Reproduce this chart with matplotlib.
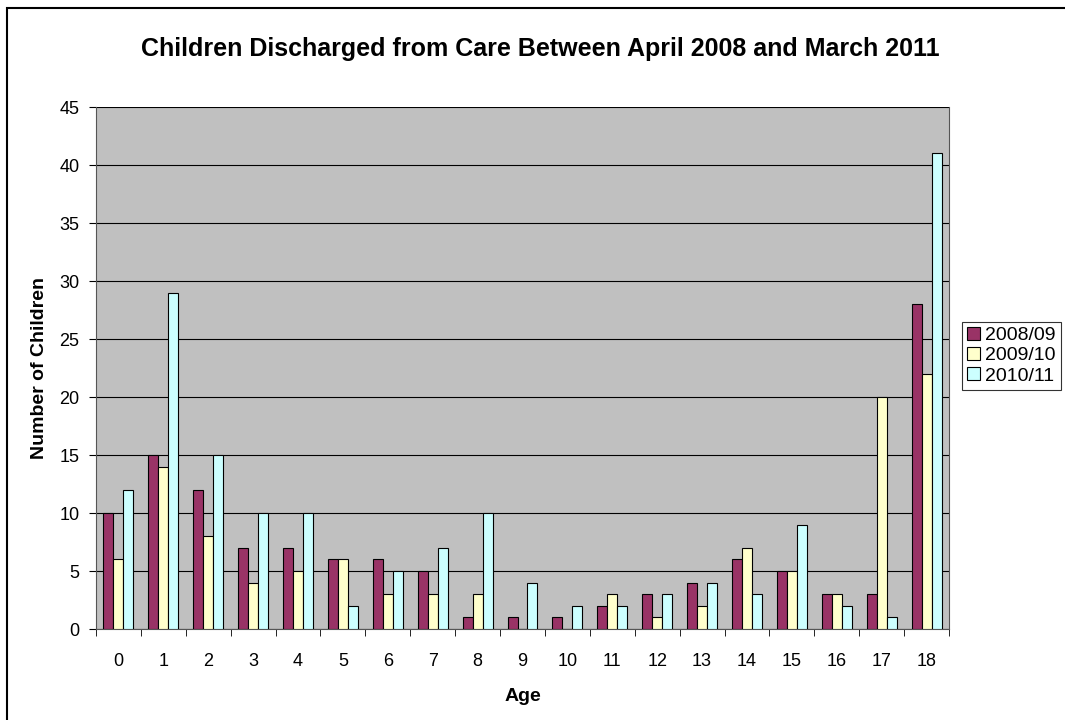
import matplotlib
matplotlib.use("Agg")
import matplotlib.pyplot as plt
from matplotlib.patches import Rectangle
import numpy as np

plt.rcParams['font.family'] = ['Liberation Sans', 'DejaVu Sans']

ages = [str(a) for a in range(19)]
years = ["2008/09", "2009/10", "2010/11"]
y2008 = [10, 15, 12, 7, 7, 6, 6, 5, 1, 1, 1, 2, 3, 4, 6, 5, 3, 3, 28]
y2009 = [6, 14, 8, 4, 5, 6, 3, 3, 3, 0, 0, 3, 1, 2, 7, 5, 3, 20, 22]
y2010 = [12, 29, 15, 10, 10, 2, 5, 7, 10, 4, 2, 2, 3, 4, 3, 9, 2, 1, 41]
colors = ["#993366", "#FFFFCC", "#CCFFFF"]

fig = plt.figure(figsize=(10.65, 7.2), dpi=100)
ax = fig.add_axes([96 / 1065, 1 - 629 / 720, 853 / 1065, 522 / 720])
ax.set_facecolor("#C0C0C0")

# outer chart border
fig.patches.append(Rectangle((7 / 1065, -0.05), 1.1, 1 - 8 / 720 + 0.05,
                             transform=fig.transFigure, fill=False,
                             edgecolor="black", linewidth=1.5))

x = np.arange(len(ages))
w = 1 / 4.5
for i, (vals, c, lab) in enumerate(zip([y2008, y2009, y2010], colors, years)):
    ax.bar(x + (i - 1) * w, vals, width=w, color=c, edgecolor="black",
           linewidth=0.8, label=lab, zorder=3)

ax.set_xlim(-0.5, len(ages) - 0.5)
ax.set_ylim(0, 45)
ax.set_yticks(range(0, 46, 5))
ax.set_xticks(x)
ax.set_xticklabels(ages)
ax.set_xticks(np.arange(-0.5, len(ages), 1), minor=True)
ax.tick_params(axis="x", which="major", length=0, pad=17, labelsize=13)
ax.tick_params(axis="x", which="minor", length=5, direction="out")
ax.tick_params(axis="y", length=5, direction="out", labelsize=13, pad=7)
ax.yaxis.grid(True, color="black", linewidth=0.8, zorder=0)
ax.set_axisbelow(True)
ax.spines["top"].set_visible(False)
for s in ["left", "bottom", "right"]:
    ax.spines[s].set_color("#555555")

ax.set_xlabel("Age", fontsize=14, fontweight="bold", labelpad=13)
ax.set_ylabel("Number of Children", fontsize=14, fontweight="bold", labelpad=8)
fig.text(540 / 1065, 1 - 49 / 720,
         "Children Discharged from Care Between April 2008 and March 2011",
         ha="center", va="center", fontsize=18, fontweight="bold")

leg = fig.legend(loc="upper left", bbox_to_anchor=(962 / 1065, 1 - 322 / 720),
                 frameon=True, fancybox=False, edgecolor="black",
                 fontsize=14, handlelength=0.65, handleheight=0.65,
                 handletextpad=0.3, borderpad=0.25, labelspacing=0.15,
                 borderaxespad=0)
leg.get_frame().set_linewidth(0.8)

fig.savefig("out.png", dpi=100)
